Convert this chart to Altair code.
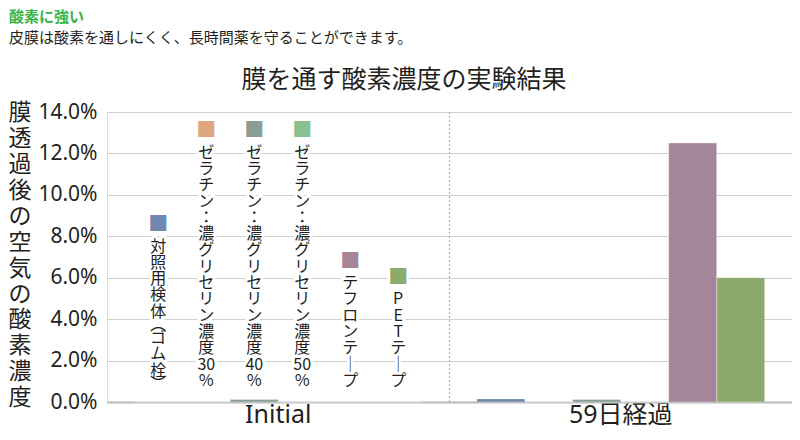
import altair as alt
import pandas as pd

# ---- data -------------------------------------------------------------
groups = ["Initial", "59日経過"]
series = [
    "対照用検体(ゴム栓)",
    "ゼラチン：濃グリセリン濃度30％",
    "ゼラチン：濃グリセリン濃度40％",
    "ゼラチン：濃グリセリン濃度50％",
    "テフロンテープ",
    "PETテープ",
]
colors = ["#7089b0", "#dea67e", "#8a9e95", "#88c08f", "#a48599", "#8caa6c"]
initial_values = [0.0, 0.0, 0.0012, 0.0, 0.0, 0.0]
day59_values = [0.0015, 0.0, 0.0012, 0.0, 0.125, 0.060]
y_ticks = [0.0, 0.02, 0.04, 0.06, 0.08, 0.10, 0.12, 0.14]

header = "酸素に強い"
subheader = "皮膜は酸素を通しにくく、長時間薬を守ることができます。"
chart_title = "膜を通す酸素濃度の実験結果"
y_title = "膜透過後の空気の酸素濃度"

FONT = "Noto Sans CJK JP"
LATIN = "Noto Sans, Noto Sans CJK JP"
INK = "#231f20"

# ---- vertical-writing helpers -------------------------------------------
VERT = {"(": "︵", ")": "︶", "ー": "｜"}
HALF = {"︵", "︶"}  # glyphs that take less than a full line in vertical text


def vertical(s):
    lines, buf = [], ""
    for ch in s:
        if ch.isdigit():
            buf += ch
            continue
        if buf:
            lines.append(buf)
            buf = ""
        lines.append(VERT.get(ch, ch))
    if buf:
        lines.append(buf)
    return lines


rows = []
for g, vals in zip(groups, [initial_values, day59_values]):
    for s, v in zip(series, vals):
        rows.append({"group": g, "series": s, "value": v})
bars_df = pd.DataFrame(rows)

# one row per vertical line; "pos" counts line slots from the label bottom
line_rows, sq_rows = [], []
for s in series:
    lines = vertical(s)
    adv = [0.62 if c in HALF else 1.0 for c in lines]
    below = 0.0
    for c, a in reversed(list(zip(lines, adv))):
        line_rows.append({"group": groups[0], "series": s, "ch": c, "pos": below + a / 2})
        below += a
    sq_rows.append({"group": groups[0], "series": s, "ch": "■", "pos": below + 0.8})
line_df = pd.DataFrame(line_rows)
sq_df = pd.DataFrame(sq_rows)

ytitle_df = pd.DataFrame({"ch": list(y_title), "i": list(range(len(y_title)))})
sep_df = pd.DataFrame({"group": [groups[1]]})

W, H = 685, 290
LH = 16.3           # px per vertical label line
LABEL_BOTTOM = 277  # px from top of plot area
YT_LH = 25.9        # px per y-title character

x_scale = alt.Scale(domain=groups, paddingInner=0, paddingOuter=0)
xoff_scale = alt.Scale(domain=series, paddingInner=0, paddingOuter=0.57)
color_scale = alt.Scale(domain=series, range=colors)
line_scale = alt.Scale(domain=[0, 1], range=[LABEL_BOTTOM, LABEL_BOTTOM - LH], nice=False, zero=False)
yt_scale = alt.Scale(domain=[0, 1], range=[1.2, 1.2 + YT_LH], nice=False, zero=False)

x_enc = alt.X(
    "group:N",
    scale=x_scale,
    axis=alt.Axis(
        title=None,
        labelAngle=0,
        labelAlign="center",
        labelFont=LATIN,
        labelFontSize=25,
        labelColor=INK,
        labelPadding=12,
        ticks=False,
        domain=True,
        domainColor="#b9b9b9",
        domainWidth=2,
        grid=False,
    ),
)
y_enc = alt.Y(
    "value:Q",
    scale=alt.Scale(domain=[0, 0.14], nice=False),
    axis=alt.Axis(
        values=y_ticks,
        format=".1%",
        title=None,
        labelFont=LATIN,
        labelFontSize=21,
        labelColor=INK,
        labelPadding=10,
        ticks=False,
        domain=False,
        grid=True,
        gridColor="#cfcfcf",
        gridWidth=1,
    ),
)

bars = alt.Chart(bars_df).mark_bar(stroke="#ffffff", strokeOpacity=0.5, strokeWidth=0.6).encode(
    x=x_enc,
    xOffset=alt.XOffset("series:N", scale=xoff_scale),
    y=y_enc,
    color=alt.Color("series:N", scale=color_scale, legend=None),
)

sep = alt.Chart(sep_df).mark_rule(color="#aaaaaa", strokeDash=[2, 2], strokeWidth=1).encode(
    x=alt.X("group:N", bandPosition=0, scale=x_scale)
)


def label_layer(df, size, halo=False, colored=False):
    kw = dict(fontSize=size, baseline="middle", align="center", font=FONT)
    if halo:
        kw.update(color="white", stroke="white", strokeWidth=6, strokeJoin="round")
    elif not colored:
        kw.update(color=INK)
    enc = dict(
        x=alt.X("group:N", scale=x_scale),
        xOffset=alt.XOffset("series:N", scale=xoff_scale),
        y=alt.Y("pos:Q", scale=line_scale, axis=None),
        text="ch:N",
    )
    if colored:
        enc["color"] = alt.Color("series:N", scale=color_scale, legend=None)
    return alt.Chart(df).mark_text(**kw).encode(**enc)


label_halo = label_layer(line_df, 16, halo=True)
sq_halo = label_layer(sq_df, 20, halo=True)
labels = label_layer(line_df, 16)
squares = label_layer(sq_df, 20, colored=True)

ytitle = alt.Chart(ytitle_df).mark_text(
    align="center", baseline="middle", fontSize=23, color=INK, font=FONT
).encode(
    x=alt.value(-87),
    y=alt.Y("i:Q", scale=yt_scale, axis=None),
    text="ch:N",
)

head1 = alt.Chart(pd.DataFrame({"t": [header]})).mark_text(
    align="left", baseline="middle", fontSize=15, fontWeight="bold", color="#39b54a"
).encode(x=alt.value(-98), y=alt.value(-95), text="t:N")
head2 = alt.Chart(pd.DataFrame({"t": [subheader]})).mark_text(
    align="left", baseline="middle", fontSize=15, color=INK
).encode(x=alt.value(-98), y=alt.value(-74), text="t:N")
title = alt.Chart(pd.DataFrame({"t": [chart_title]})).mark_text(
    align="center", baseline="middle", fontSize=25, color=INK
).encode(x=alt.value(297), y=alt.value(-32), text="t:N")

chart = alt.layer(
    sep, bars, label_halo, sq_halo, labels, squares, ytitle, head1, head2, title
).resolve_scale(
    y="independent"
).properties(
    width=W,
    height=H,
    autosize=alt.AutoSizeParams(type="none"),
    padding={"left": 99, "top": 104, "right": 0, "bottom": 26},
).configure_view(strokeWidth=0).configure(font=FONT)

chart.save("out.html", embed_options={"renderer": "svg", "actions": False})
